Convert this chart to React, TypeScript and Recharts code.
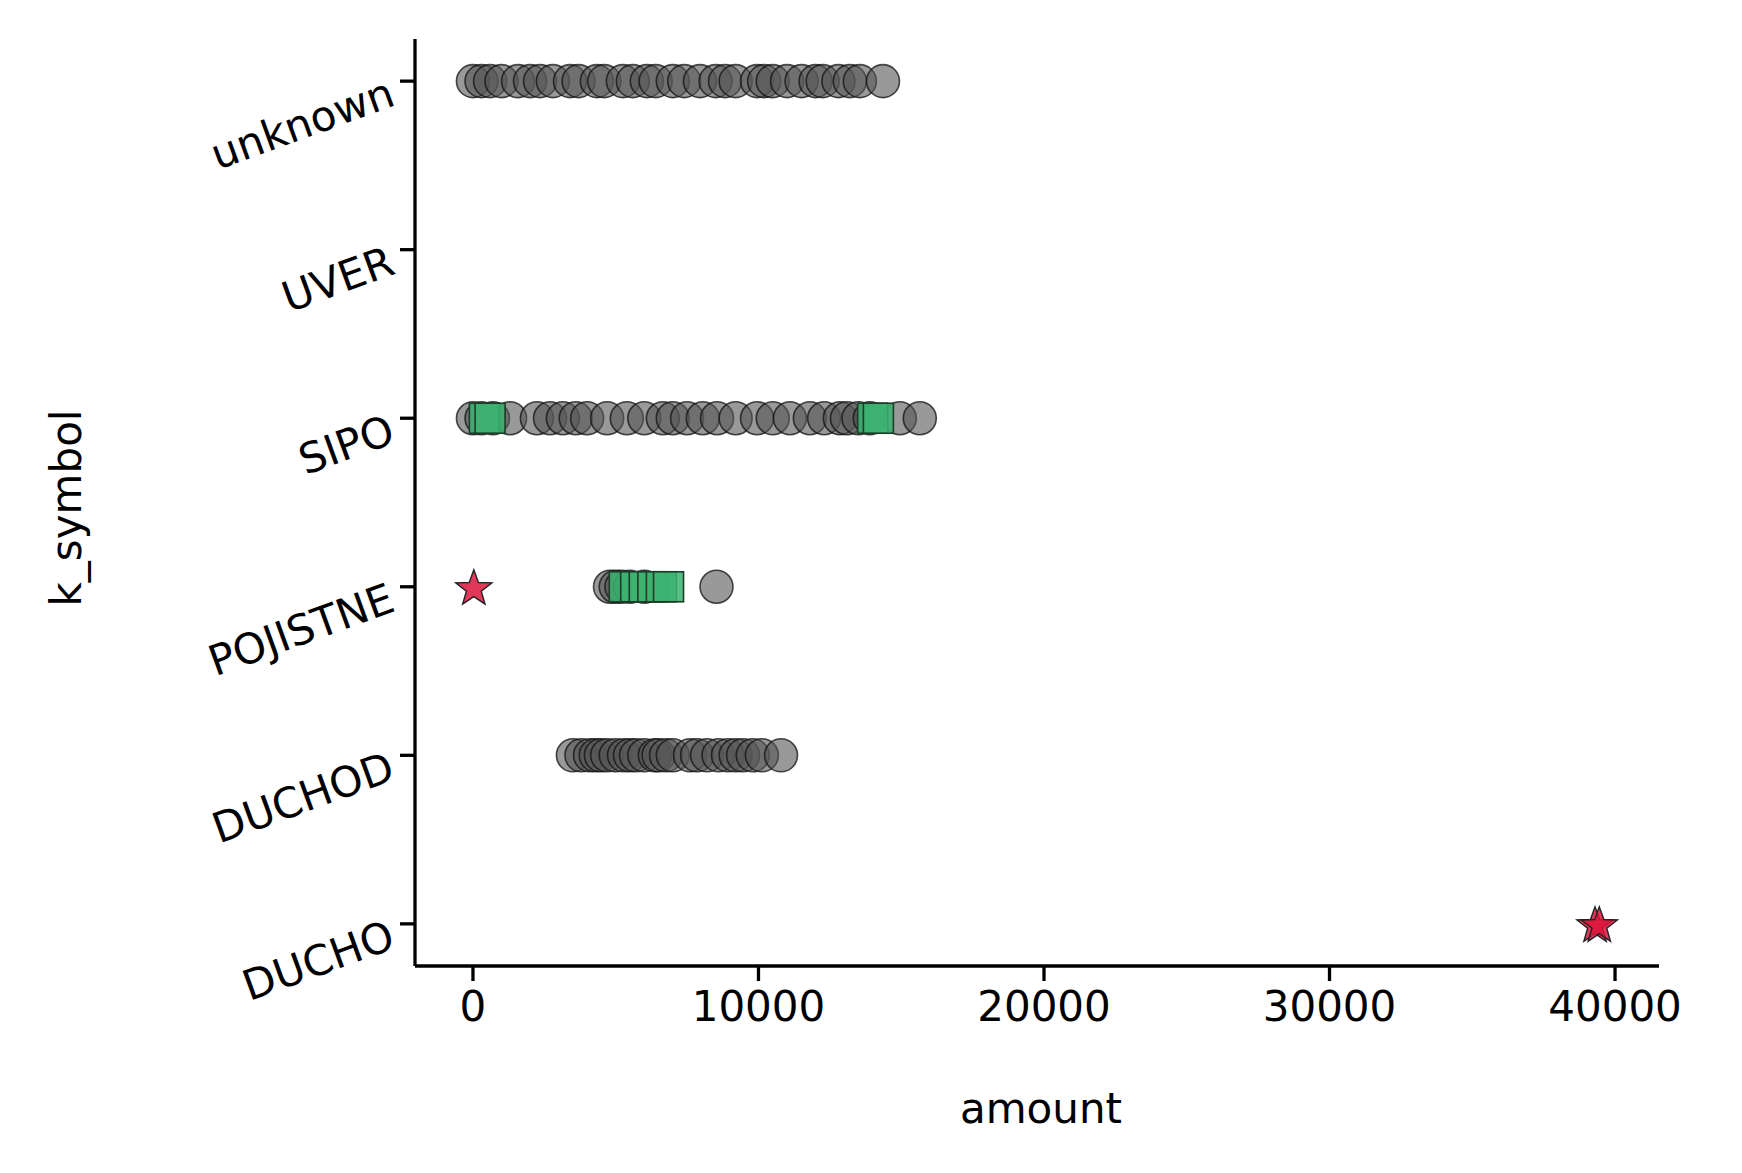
import React from 'react';
import { ScatterChart, Scatter, XAxis, YAxis } from 'recharts';

// category order bottom -> top
const categories = ['DUCHO', 'DUCHOD', 'POJISTNE', 'SIPO', 'UVER', 'unknown'];
const xTicks = [0, 10000, 20000, 30000, 40000];

// gray circles: regular amounts per category
const unknownAmounts = [0, 300, 600, 1000, 1580, 2000, 2350, 2800, 3400, 3700, 4340, 4600, 5250, 5600, 6090, 6400, 7000, 7400, 7950, 8500, 8830, 9200, 9950, 10200, 10500, 11000, 11510, 12000, 12250, 12800, 13200, 13550, 14360];
const sipoAmounts = [0, 300, 700, 1300, 2240, 2700, 3150, 3600, 4000, 4700, 5390, 6000, 6650, 7000, 7500, 8050, 8550, 9200, 9950, 10500, 11100, 11800, 12300, 12850, 13100, 13500, 13900, 14950, 15650];
const pojistneAmounts = [4800, 5000, 5200, 5500, 6000, 8530];
const duchodAmounts = [3500, 3800, 4100, 4300, 4480, 4700, 5000, 5290, 5500, 5710, 6000, 6370, 6500, 6760, 7000, 7600, 7850, 8200, 8600, 8930, 9200, 9460, 9800, 10120, 10790];

// green squares
const sipoSquares = [400, 600, 14000, 14200];
const pojistneSquares = [5300, 5700, 6000, 6300, 6600, 6850];

// red stars
const pojistneStars = [30];
const duchoStars = [39300, 39450];

const toPoints = (amounts: number[], cat: string) =>
  amounts.map(x => ({ x, y: categories.indexOf(cat) }));

const circleData = [
  ...toPoints(unknownAmounts, 'unknown'),
  ...toPoints(sipoAmounts, 'SIPO'),
  ...toPoints(pojistneAmounts, 'POJISTNE'),
  ...toPoints(duchodAmounts, 'DUCHOD'),
];
const squareData = [...toPoints(sipoSquares, 'SIPO'), ...toPoints(pojistneSquares, 'POJISTNE')];
const starData = [...toPoints(pojistneStars, 'POJISTNE'), ...toPoints(duchoStars, 'DUCHO')];

const FONT = 'DejaVu Sans';

const CircleShape = (props: any) => (
  <circle cx={props.cx} cy={props.cy} r={16.5} fill="#555555" fillOpacity={0.6} stroke="#111" strokeOpacity={0.75} strokeWidth={1.6} />
);

const SquareShape = (props: any) => (
  <rect x={props.cx - 15} y={props.cy - 15} width={30} height={30} fill="#3cb371" fillOpacity={0.85} stroke="#1c3d28" strokeWidth={1.6} />
);

const StarShape = (props: any) => {
  const { cx, cy } = props;
  const pts: string[] = [];
  for (let i = 0; i < 10; i++) {
    const r = i % 2 === 0 ? 19 : 7.8;
    const a = -Math.PI / 2 + (i * Math.PI) / 5;
    pts.push(`${cx + r * Math.cos(a)},${cy + 2 + r * Math.sin(a)}`);
  }
  return <polygon points={pts.join(' ')} fill="#dc143c" fillOpacity={0.85} stroke="#222" strokeWidth={1.4} />;
};

const YTick = (props: any) => {
  const { x, y, payload } = props;
  return (
    <text
      x={x - 6}
      y={y + 10}
      textAnchor="end"
      dominantBaseline="central"
      fontFamily={FONT}
      fontSize={42}
      fill="#000"
      transform={`rotate(-20 ${x - 6} ${y + 10})`}
    >
      {categories[payload.value]}
    </text>
  );
};

export default function App() {
  const axisStyle = { stroke: '#000', strokeWidth: 3.3 };
  return (
    <div style={{ position: 'absolute', left: 0, top: 0, width: 1742, height: 1173, background: '#fff', fontFamily: FONT }}>
      <ScatterChart width={1742} height={1173} margin={{ top: 39, right: 83, bottom: 0, left: 0 }}>
        <XAxis
          type="number"
          dataKey="x"
          domain={[-2030, 41540]}
          ticks={xTicks}
          allowDataOverflow
          axisLine={axisStyle}
          tickLine={axisStyle}
          tickSize={15}
          tickMargin={10}
          height={207}
          tick={{ fontFamily: FONT, fontSize: 42, fill: '#000' }}
        />
        <YAxis
          type="number"
          dataKey="y"
          domain={[-0.25, 5.25]}
          ticks={[0, 1, 2, 3, 4, 5]}
          allowDataOverflow
          axisLine={axisStyle}
          tickLine={axisStyle}
          tickSize={15}
          width={415}
          tick={<YTick />}
        />
        <Scatter data={circleData} shape={<CircleShape />} isAnimationActive={false} />
        <Scatter data={squareData} shape={<SquareShape />} isAnimationActive={false} />
        <Scatter data={starData} shape={<StarShape />} isAnimationActive={false} />
      </ScatterChart>
      <div style={{ position: 'absolute', left: 0, width: 2082, top: 1082, fontSize: 42, textAlign: 'center', lineHeight: '54px' }}>
        amount
      </div>
      <div
        style={{
          position: 'absolute',
          left: 67,
          top: 508,
          fontSize: 42,
          lineHeight: '54px',
          whiteSpace: 'nowrap',
          transform: 'translate(-50%, -50%) rotate(-90deg)',
        }}
      >
        k_symbol
      </div>
    </div>
  );
}
